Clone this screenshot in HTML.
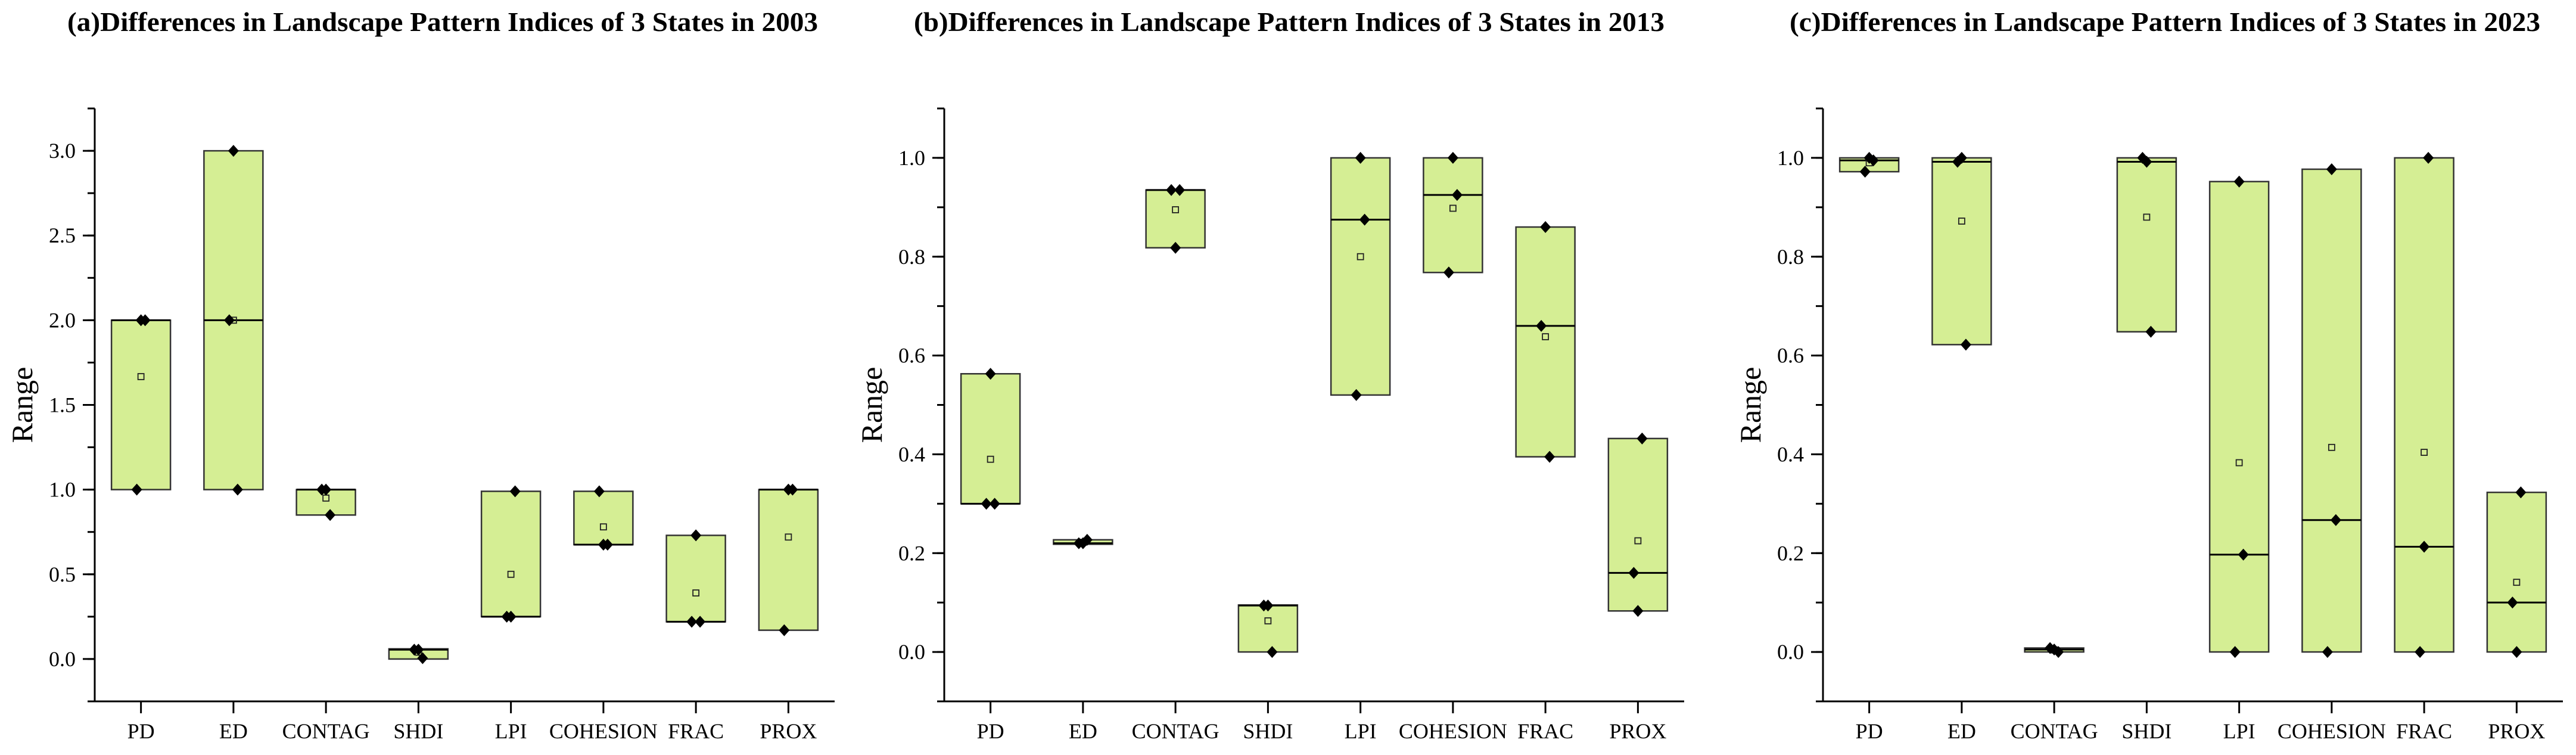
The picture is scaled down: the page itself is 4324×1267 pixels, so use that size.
<!DOCTYPE html>
<html><head><meta charset="utf-8"><style>
html,body{margin:0;padding:0;background:#fff;}
svg{display:block;font-family:"Liberation Serif",serif;}
</style></head><body>
<svg id="chart" width="4324" height="1267" viewBox="0 0 4324 1267" xmlns="http://www.w3.org/2000/svg"></svg>
<script>
const categories = ["PD","ED","CONTAG","SHDI","LPI","COHESION","FRAC","PROX"];
// Panel a (2003)
const a_min    = [1.0, 1.0, 0.85, 0.0, 0.25, 0.675, 0.22, 0.17];
const a_max    = [2.0, 3.0, 1.0, 0.06, 0.99, 0.99, 0.73, 1.0];
const a_median = [2.0, 2.0, 1.0, 0.055, 0.25, 0.675, 0.22, 1.0];
const a_mean   = [1.667, 2.0, 0.95, 0.04, 0.5, 0.78, 0.39, 0.72];
const a_points = [[1.0,2.0,2.0],[2.0,3.0,1.0],[1.0,1.0,0.85],[0.055,0.055,0.005],[0.25,0.25,0.99],[0.99,0.675,0.675],[0.22,0.73,0.22],[0.17,1.0,1.0]];
// Panel b (2013)
const b_min    = [0.30, 0.218, 0.818, 0.0, 0.52, 0.768, 0.395, 0.083];
const b_max    = [0.563, 0.227, 0.935, 0.095, 1.0, 1.0, 0.86, 0.432];
const b_median = [0.30, 0.22, 0.935, 0.094, 0.875, 0.925, 0.66, 0.16];
const b_mean   = [0.39, 0.222, 0.895, 0.063, 0.80, 0.898, 0.638, 0.225];
const b_points = [[0.30,0.563,0.30],[0.22,0.22,0.227],[0.935,0.818,0.935],[0.094,0.094,0.0],[0.52,1.0,0.875],[0.768,1.0,0.925],[0.66,0.86,0.395],[0.16,0.083,0.432]];
// Panel c (2023)
const c_min    = [0.972, 0.622, 0.0, 0.648, 0.0, 0.0, 0.0, 0.0];
const c_max    = [1.0, 1.0, 0.008, 1.0, 0.952, 0.977, 1.0, 0.323];
const c_median = [0.995, 0.992, 0.005, 0.992, 0.197, 0.267, 0.213, 0.1];
const c_mean   = [0.99, 0.872, 0.004, 0.88, 0.383, 0.414, 0.404, 0.141];
const c_points = [[0.972,1.0,0.995],[0.992,1.0,0.622],[0.008,0.005,0.0],[1.0,0.992,0.648],[0.0,0.952,0.197],[0.0,0.977,0.267],[0.0,0.213,1.0],[0.1,0.0,0.323]];
const a_ticks = ["0.0","0.5","1.0","1.5","2.0","2.5","3.0"];
const bc_ticks = ["0.0","0.2","0.4","0.6","0.8","1.0"];
const titles = ["(a)Differences in Landscape Pattern Indices of 3 States in 2003",
                "(b)Differences in Landscape Pattern Indices of 3 States in 2013",
                "(c)Differences in Landscape Pattern Indices of 3 States in 2023"];

const NS="http://www.w3.org/2000/svg";
const svg=document.getElementById('chart');
function mk(tag,attrs,parent){const e=document.createElementNS(NS,tag);for(const k in attrs)e.setAttribute(k,attrs[k]);(parent||svg).appendChild(e);return e;}

const panels=[
 {ax:159, titleX:743, yMin:-0.25, yMax:3.25, ticks:a_ticks, minorStep:0.25, mn:a_min,mx:a_max,md:a_median,me:a_mean,pts:a_points,key:'a'},
 {ax:1585, titleX:2164, yMin:-0.1, yMax:1.1, ticks:bc_ticks, minorStep:0.1, mn:b_min,mx:b_max,md:b_median,me:b_mean,pts:b_points,key:'b'},
 {ax:3060, titleX:3634, yMin:-0.1, yMax:1.1, ticks:bc_ticks, minorStep:0.1, mn:c_min,mx:c_max,md:c_median,me:c_mean,pts:c_points,key:'c'}
];
const TOP=182, BOT=1177, W=1242, SLOT=W/8, BOXW=99;
const jit=[-7,0,7];

panels.forEach((p,pi)=>{
  const g=mk('g',{});
  
  
  const y=v=>BOT-(v-p.yMin)/(p.yMax-p.yMin)*(BOT-TOP);
  const x=i=>p.ax+SLOT*(i+0.5);
  const t=mk('text',{x:p.titleX,y:52,'text-anchor':'middle','font-size':46,'font-weight':'bold',textLength:1260,lengthAdjust:'spacingAndGlyphs'},g);
  t.textContent=titles[pi];
  
  
  for(let v=Math.ceil(p.yMin/p.minorStep)*p.minorStep; v<=p.yMax+1e-9; v+=p.minorStep){
    mk('line',{x1:p.ax-12,x2:p.ax,y1:y(v),y2:y(v),stroke:'#000','stroke-width':3},g);
  }
  p.ticks.forEach(tl=>{
    const v=parseFloat(tl);
    mk('line',{x1:p.ax-20,x2:p.ax,y1:y(v),y2:y(v),stroke:'#000','stroke-width':3},g);
    const tx=mk('text',{x:p.ax-32,y:y(v)+12,'text-anchor':'end','font-size':36},g);
    tx.textContent=tl;
    
    
  });
  const yl=mk('text',{x:0,y:0,'text-anchor':'middle','font-size':50,transform:`translate(${p.ax-105},${(TOP+BOT)/2}) rotate(-90)`},g);
  yl.textContent='Range';
  
  
  categories.forEach((c,i)=>{
    mk('line',{x1:x(i),x2:x(i),y1:BOT,y2:BOT+20,stroke:'#000','stroke-width':3},g);
    const tx=mk('text',{x:x(i),y:BOT+62,'text-anchor':'middle','font-size':36},g);
    tx.textContent=c;
    
    
    const r=mk('rect',{x:x(i)-BOXW/2,y:y(p.mx[i]),width:BOXW,height:Math.max(1,y(p.mn[i])-y(p.mx[i])),fill:'#d5ee94',stroke:'#333','stroke-width':2.5},g);
    
    
    mk('line',{x1:x(i)-BOXW/2,x2:x(i)+BOXW/2,y1:y(p.md[i]),y2:y(p.md[i]),stroke:'#000','stroke-width':3},g);
    const m=mk('rect',{x:x(i)-5,y:y(p.me[i])-5,width:10,height:10,fill:'none',stroke:'#222','stroke-width':1.8},g);
    
    
    p.pts[i].forEach((v,k)=>{
      const cx=x(i)+jit[k], cy=y(v);
      const d=mk('polygon',{points:`${cx},${cy-10} ${cx+9},${cy} ${cx},${cy+10} ${cx-9},${cy}`,fill:'#000'},g);
      
      
    });
  });
  mk('line',{x1:p.ax,x2:p.ax,y1:TOP,y2:BOT+1.5,stroke:'#000','stroke-width':3},g);
  mk('line',{x1:p.ax-1.5,x2:p.ax+W,y1:BOT,y2:BOT,stroke:'#000','stroke-width':3},g);
});
</script>
</body></html>
